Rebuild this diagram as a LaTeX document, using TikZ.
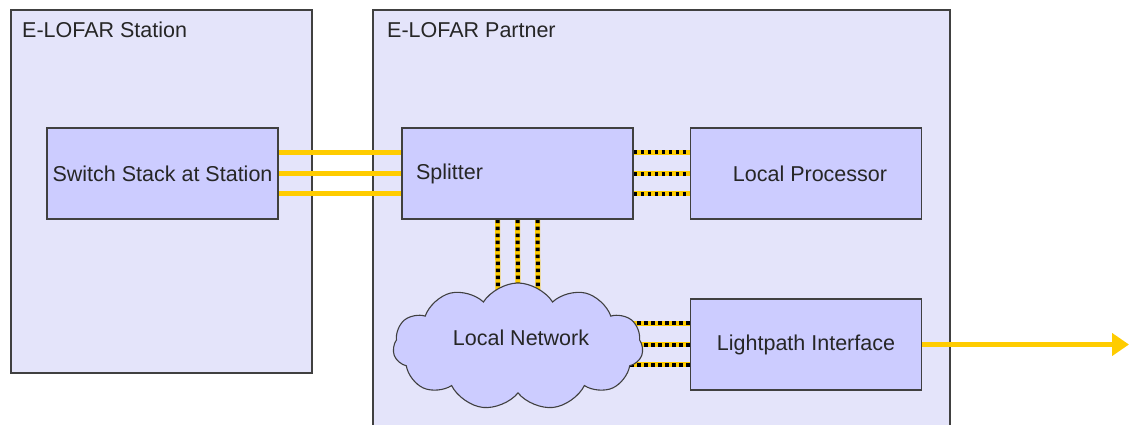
\documentclass[tikz,border=0pt]{standalone}
\usepackage{fontspec}
\setmainfont{Liberation Sans}
\usetikzlibrary{shapes.symbols,calc,arrows.meta}
\pgfdeclarelayer{back}
\pgfdeclarelayer{mid}
\pgfsetlayers{back,mid,main}
\definecolor{outerfill}{RGB}{228,228,250}
\definecolor{innerfill}{RGB}{204,204,255}
\definecolor{edge}{RGB}{64,64,64}
\definecolor{yl}{RGB}{255,204,0}
\begin{document}
\begin{tikzpicture}[x=1pt,y=-1pt,
  every node/.style={font=\fontsize{21.5}{26}\selectfont, text=black!85},
  outerbox/.style={draw=edge, fill=outerfill, line width=1.3pt},
  innerbox/.style={draw=edge, fill=innerfill, line width=1.3pt, minimum width=231pt, minimum height=91pt, inner sep=0pt},
  title/.style={anchor=base west, inner sep=0pt},
  yline/.style={draw=yl, line width=5pt},
  dline/.style={draw=yl, line width=5pt, postaction={draw=black, line width=4pt, dash pattern=on 3.5pt off 3.5pt}}]
\useasboundingbox (0,0) rectangle (1129,425);
\begin{pgfonlayer}{back}
\path[outerbox] (11,10) rectangle (312,373);
\path[outerbox] (373,10) rectangle (950,445);
\end{pgfonlayer}
\node[title] (stitle) at (22,38) {E-LOFAR Station};
\node[title] (ptitle) at (387,38) {E-LOFAR Partner};
\node[innerbox] (switch) at (162.5,173.5) {Switch Stack at Station};
\node[innerbox, inner xsep=14pt, text width=203pt, align=left] (splitter) at (517.5,173.5) {Splitter};
\node[innerbox] (proc) at (806,173.5) {\hspace{8pt}Local Processor};
\node[innerbox] (light) at (806,344.5) {Lightpath Interface};
\node[cloud, cloud puffs=11, cloud puff arc=115, aspect=1.97, draw=edge, fill=innerfill, line width=1.1pt, minimum width=250pt, minimum height=127pt, inner sep=0pt] (net) at (518,346.5) {};
\node (nettext) at ($(net.center)+(3,-9)$) {Local Network};
\coordinate (arrowend) at (1129,344.5);
\begin{pgfonlayer}{mid}
\foreach \d in {-21.5,0,20}{
  \draw[yline] ($(switch.east)+(0,\d)$) -- ($(splitter.west)+(0,\d)$);
  \draw[dline] ($(splitter.east)+(0,\d)$) -- ($(proc.west)+(0,\d)$);
}
\foreach \d in {-20,0,20}{
  \draw[dline] ($(splitter.south)+(\d,0)$) -- ($(net.north)+(\d,20)$);
}
\foreach \d [count=\i] in {-21.5,0,20}{
  \coordinate (lw\i) at ($(light.west)+(0,\d)$);
  \draw[dline] (lw\i) -- (lw\i -| net.center);
}
\end{pgfonlayer}
\draw[yline, -{Triangle[length=17pt,width=22pt]}] (light.east) -- (arrowend);
\end{tikzpicture}
\end{document}
